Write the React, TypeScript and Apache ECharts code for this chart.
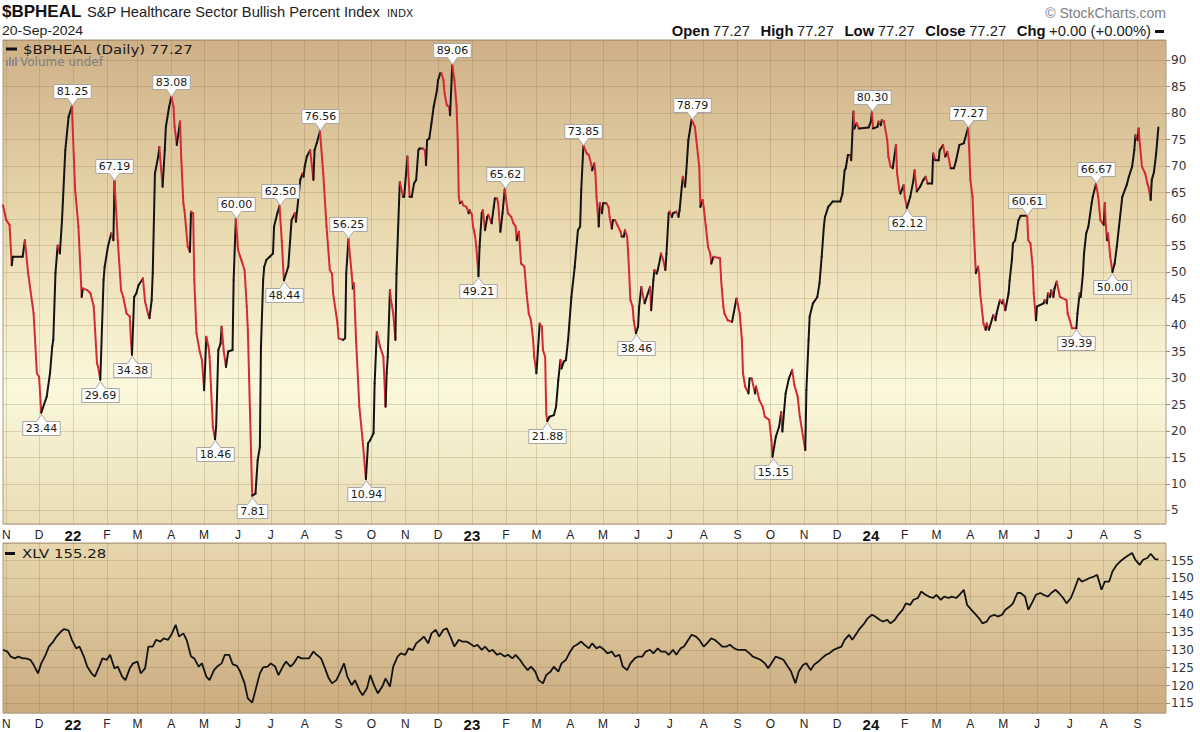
import React, { useEffect, useRef } from "react";
import * as echarts from "echarts";

// ---------------- data ----------------
const AXIS_START = "2021-10-29";
const AXIS_END = "2024-09-27";
const MONTH_LETTERS = ["J", "F", "M", "A", "M", "J", "J", "A", "S", "O", "N", "D"];

// $BPHEAL daily line, vertices
const bpiPoints: [string, number][] = [
  ["2021-10-29", 62.6], ["2021-11-01", 59.8], ["2021-11-04", 58.9], ["2021-11-06", 51.3], ["2021-11-07", 52.9],
  ["2021-11-16", 52.9], ["2021-11-18", 56.0], ["2021-11-21", 49.8], ["2021-11-26", 42.2], ["2021-11-29", 30.9],
  ["2021-12-01", 30.2], ["2021-12-03", 23.44], ["2021-12-08", 26.5], ["2021-12-11", 30.9], ["2021-12-13", 35.9],
  ["2021-12-14", 37.2], ["2021-12-16", 49.8], ["2021-12-18", 55.0], ["2021-12-20", 53.5], ["2021-12-22", 59.8],
  ["2021-12-25", 73.0], ["2021-12-28", 79.3], ["2021-12-31", 81.25], ["2022-01-03", 65.5], ["2022-01-06", 58.6],
  ["2022-01-09", 45.3], ["2022-01-10", 46.9], ["2022-01-14", 46.6], ["2022-01-17", 46.0], ["2022-01-20", 43.5],
  ["2022-01-23", 32.8], ["2022-01-24", 32.1], ["2022-01-26", 29.69], ["2022-01-29", 48.5], ["2022-01-30", 51.0],
  ["2022-02-02", 54.8], ["2022-02-05", 57.3], ["2022-02-07", 56.0], ["2022-02-08", 67.19], ["2022-02-11", 56.0],
  ["2022-02-14", 46.6], ["2022-02-16", 45.3], ["2022-02-19", 42.2], ["2022-02-22", 41.6], ["2022-02-23", 37.2],
  ["2022-02-24", 34.38], ["2022-02-26", 45.3], ["2022-02-28", 46.0], ["2022-03-02", 47.5], ["2022-03-06", 48.8],
  ["2022-03-08", 44.4], ["2022-03-11", 41.9], ["2022-03-12", 41.3], ["2022-03-14", 44.7], ["2022-03-15", 49.8],
  ["2022-03-17", 68.6], ["2022-03-20", 71.8], ["2022-03-21", 73.6], ["2022-03-24", 66.1], ["2022-03-26", 73.0],
  ["2022-03-27", 77.4], ["2022-03-30", 81.2], ["2022-04-01", 83.08], ["2022-04-03", 81.2], ["2022-04-04", 77.4],
  ["2022-04-06", 74.0], ["2022-04-09", 78.4], ["2022-04-10", 71.8], ["2022-04-12", 63.0], ["2022-04-13", 61.7],
  ["2022-04-16", 54.8], ["2022-04-18", 53.8], ["2022-04-19", 61.4], ["2022-04-21", 61.1], ["2022-04-22", 48.5],
  ["2022-04-24", 38.4], ["2022-04-27", 35.0], ["2022-04-29", 33.4], ["2022-05-01", 27.7], ["2022-05-03", 37.8],
  ["2022-05-05", 35.9], ["2022-05-06", 34.0], ["2022-05-09", 20.8], ["2022-05-11", 18.46], ["2022-05-12", 20.8],
  ["2022-05-14", 35.3], ["2022-05-16", 36.5], ["2022-05-17", 39.7], ["2022-05-19", 35.0], ["2022-05-21", 32.1],
  ["2022-05-23", 35.0], ["2022-05-27", 35.3], ["2022-05-28", 48.5], ["2022-05-30", 60.0], ["2022-06-01", 54.2],
  ["2022-06-04", 52.3], ["2022-06-07", 50.4], ["2022-06-09", 43.5], ["2022-06-10", 39.1], ["2022-06-12", 23.3],
  ["2022-06-14", 7.81], ["2022-06-17", 8.2], ["2022-06-19", 14.5], ["2022-06-21", 17.0], ["2022-06-22", 35.9],
  ["2022-06-24", 48.5], ["2022-06-25", 51.0], ["2022-06-27", 52.3], ["2022-06-30", 52.9], ["2022-07-03", 53.5],
  ["2022-07-04", 58.6], ["2022-07-07", 61.1], ["2022-07-09", 62.5], ["2022-07-11", 56.0], ["2022-07-13", 48.44],
  ["2022-07-17", 51.0], ["2022-07-20", 59.8], ["2022-07-23", 61.1], ["2022-07-24", 59.5], ["2022-07-28", 67.4],
  ["2022-07-30", 68.6], ["2022-07-31", 68.0], ["2022-08-01", 69.9], ["2022-08-03", 71.8], ["2022-08-06", 73.0],
  ["2022-08-07", 71.2], ["2022-08-09", 67.4], ["2022-08-10", 73.0], ["2022-08-12", 74.3], ["2022-08-15", 76.56],
  ["2022-08-18", 68.6], ["2022-08-21", 58.6], ["2022-08-24", 50.4], ["2022-08-26", 49.7], ["2022-08-27", 46.0],
  ["2022-08-31", 40.3], ["2022-09-01", 37.5], ["2022-09-05", 37.2], ["2022-09-07", 37.5], ["2022-09-08", 49.7],
  ["2022-09-10", 56.25], ["2022-09-13", 49.7], ["2022-09-14", 46.9], ["2022-09-15", 47.9], ["2022-09-17", 37.2],
  ["2022-09-20", 24.6], ["2022-09-23", 18.3], ["2022-09-26", 10.94], ["2022-09-28", 17.7], ["2022-09-30", 18.3],
  ["2022-10-03", 19.6], ["2022-10-04", 29.0], ["2022-10-06", 38.7], ["2022-10-09", 35.9], ["2022-10-12", 34.0],
  ["2022-10-14", 24.6], ["2022-10-15", 30.9], ["2022-10-16", 34.0], ["2022-10-18", 46.6], ["2022-10-19", 44.7],
  ["2022-10-21", 42.2], ["2022-10-23", 37.2], ["2022-10-24", 49.7], ["2022-10-27", 67.0], ["2022-10-28", 66.1],
  ["2022-10-30", 64.2], ["2022-10-31", 64.2], ["2022-11-03", 71.8], ["2022-11-05", 64.2], ["2022-11-07", 64.2],
  ["2022-11-09", 66.7], ["2022-11-11", 67.4], ["2022-11-13", 73.0], ["2022-11-14", 73.3], ["2022-11-17", 73.3],
  ["2022-11-19", 73.0], ["2022-11-20", 70.2], ["2022-11-21", 74.9], ["2022-11-23", 75.2], ["2022-11-25", 78.1],
  ["2022-11-27", 81.2], ["2022-11-30", 84.3], ["2022-12-01", 86.2], ["2022-12-03", 87.5], ["2022-12-04", 87.5],
  ["2022-12-06", 86.2], ["2022-12-07", 83.7], ["2022-12-09", 81.5], ["2022-12-11", 81.2], ["2022-12-12", 79.6],
  ["2022-12-14", 89.06], ["2022-12-16", 86.2], ["2022-12-18", 81.2], ["2022-12-19", 74.9], ["2022-12-20", 64.2],
  ["2022-12-21", 63.0], ["2022-12-23", 63.3], ["2022-12-24", 62.6], ["2022-12-27", 62.3], ["2022-12-29", 61.1],
  ["2022-12-30", 61.7], ["2023-01-01", 60.8], ["2023-01-02", 58.6], ["2023-01-04", 56.7], ["2023-01-05", 54.8],
  ["2023-01-07", 49.21], ["2023-01-08", 54.8], ["2023-01-10", 61.1], ["2023-01-11", 61.7], ["2023-01-13", 57.9],
  ["2023-01-15", 60.4], ["2023-01-16", 60.8], ["2023-01-19", 59.2], ["2023-01-21", 62.3], ["2023-01-22", 63.9],
  ["2023-01-24", 63.9], ["2023-01-25", 63.0], ["2023-01-27", 57.6], ["2023-01-29", 61.1], ["2023-01-31", 65.62],
  ["2023-02-03", 61.1], ["2023-02-06", 60.4], ["2023-02-08", 59.2], ["2023-02-10", 58.6], ["2023-02-11", 56.0],
  ["2023-02-13", 57.6], ["2023-02-15", 51.6], ["2023-02-18", 51.0], ["2023-02-20", 46.0], ["2023-02-22", 42.2],
  ["2023-02-24", 40.9], ["2023-02-26", 37.2], ["2023-02-27", 34.0], ["2023-03-01", 30.9], ["2023-03-04", 40.3],
  ["2023-03-06", 39.7], ["2023-03-07", 35.3], ["2023-03-09", 34.0], ["2023-03-10", 23.3], ["2023-03-11", 21.88],
  ["2023-03-13", 22.7], ["2023-03-17", 23.0], ["2023-03-19", 24.6], ["2023-03-21", 29.6], ["2023-03-23", 33.4],
  ["2023-03-24", 31.8], ["2023-03-26", 33.1], ["2023-03-28", 33.4], ["2023-03-30", 37.2], ["2023-04-02", 45.3],
  ["2023-04-05", 50.9], ["2023-04-08", 57.9], ["2023-04-10", 58.6], ["2023-04-11", 65.5], ["2023-04-13", 73.85],
  ["2023-04-16", 72.4], ["2023-04-18", 72.1], ["2023-04-20", 70.5], ["2023-04-21", 69.2], ["2023-04-23", 70.5],
  ["2023-04-24", 68.6], ["2023-04-25", 64.2], ["2023-04-27", 58.6], ["2023-04-28", 63.0], ["2023-04-30", 61.1],
  ["2023-05-01", 63.0], ["2023-05-04", 63.0], ["2023-05-06", 62.3], ["2023-05-07", 60.4], ["2023-05-09", 58.2],
  ["2023-05-10", 59.8], ["2023-05-12", 59.8], ["2023-05-14", 58.9], ["2023-05-17", 57.6], ["2023-05-18", 56.7],
  ["2023-05-20", 56.7], ["2023-05-21", 57.9], ["2023-05-23", 56.7], ["2023-05-24", 53.5], ["2023-05-26", 44.7],
  ["2023-05-28", 43.5], ["2023-05-29", 40.9], ["2023-05-31", 38.46], ["2023-06-02", 39.7], ["2023-06-03", 43.5],
  ["2023-06-05", 47.2], ["2023-06-06", 46.0], ["2023-06-08", 44.1], ["2023-06-11", 46.0], ["2023-06-13", 47.2],
  ["2023-06-14", 42.8], ["2023-06-16", 48.5], ["2023-06-17", 50.4], ["2023-06-19", 49.7], ["2023-06-20", 50.4],
  ["2023-06-22", 52.3], ["2023-06-23", 53.5], ["2023-06-25", 52.3], ["2023-06-27", 50.4], ["2023-06-28", 53.5],
  ["2023-06-30", 61.1], ["2023-07-01", 61.4], ["2023-07-03", 60.4], ["2023-07-04", 61.1], ["2023-07-07", 61.4],
  ["2023-07-09", 60.4], ["2023-07-10", 61.7], ["2023-07-12", 66.1], ["2023-07-13", 68.0], ["2023-07-15", 66.1],
  ["2023-07-16", 68.6], ["2023-07-18", 74.9], ["2023-07-21", 78.79], ["2023-07-24", 77.4], ["2023-07-25", 75.5],
  ["2023-07-28", 69.9], ["2023-07-29", 62.3], ["2023-07-31", 63.6], ["2023-08-01", 62.3], ["2023-08-03", 58.6],
  ["2023-08-05", 54.8], ["2023-08-07", 53.5], ["2023-08-08", 51.6], ["2023-08-10", 52.9], ["2023-08-16", 52.6],
  ["2023-08-17", 48.5], ["2023-08-19", 43.5], ["2023-08-20", 42.2], ["2023-08-23", 40.9], ["2023-08-27", 40.6],
  ["2023-08-31", 45.0], ["2023-09-01", 44.1], ["2023-09-03", 42.2], ["2023-09-05", 37.2], ["2023-09-06", 30.9],
  ["2023-09-08", 28.4], ["2023-09-11", 27.1], ["2023-09-12", 29.9], ["2023-09-14", 29.9], ["2023-09-17", 27.1],
  ["2023-09-18", 28.4], ["2023-09-21", 25.8], ["2023-09-24", 24.6], ["2023-09-26", 22.7], ["2023-09-30", 22.1],
  ["2023-10-02", 18.3], ["2023-10-03", 15.15], ["2023-10-06", 18.9], ["2023-10-09", 20.8], ["2023-10-11", 23.6],
  ["2023-10-12", 19.9], ["2023-10-15", 27.1], ["2023-10-18", 29.9], ["2023-10-21", 31.5], ["2023-10-23", 28.7],
  ["2023-10-26", 26.5], ["2023-10-28", 22.7], ["2023-10-31", 18.9], ["2023-11-02", 16.4], ["2023-11-03", 27.7],
  ["2023-11-05", 37.2], ["2023-11-06", 41.6], ["2023-11-09", 44.1], ["2023-11-13", 45.3], ["2023-11-15", 47.9],
  ["2023-11-17", 52.9], ["2023-11-19", 58.6], ["2023-11-20", 60.4], ["2023-11-23", 62.3], ["2023-11-27", 63.3],
  ["2023-12-04", 63.3], ["2023-12-06", 64.8], ["2023-12-08", 69.2], ["2023-12-09", 69.6], ["2023-12-11", 72.1],
  ["2023-12-13", 72.1], ["2023-12-14", 71.1], ["2023-12-16", 80.3], ["2023-12-17", 77.1], ["2023-12-19", 78.1],
  ["2023-12-21", 77.1], ["2023-12-30", 77.3], ["2024-01-01", 78.4], ["2024-01-02", 80.3], ["2024-01-03", 77.1],
  ["2024-01-07", 77.4], ["2024-01-08", 78.4], ["2024-01-10", 77.7], ["2024-01-11", 78.7], ["2024-01-13", 78.4],
  ["2024-01-16", 74.9], ["2024-01-17", 71.8], ["2024-01-19", 69.9], ["2024-01-21", 69.6], ["2024-01-24", 74.0],
  ["2024-01-25", 68.6], ["2024-01-27", 65.5], ["2024-01-28", 64.8], ["2024-01-31", 66.4], ["2024-02-01", 64.2],
  ["2024-02-03", 62.12], ["2024-02-06", 64.2], ["2024-02-09", 67.4], ["2024-02-10", 69.2], ["2024-02-12", 65.2],
  ["2024-02-15", 66.1], ["2024-02-18", 67.4], ["2024-02-20", 68.0], ["2024-02-22", 66.7], ["2024-02-26", 66.7],
  ["2024-02-27", 72.4], ["2024-02-29", 71.1], ["2024-03-03", 71.1], ["2024-03-04", 73.0], ["2024-03-07", 74.0],
  ["2024-03-09", 71.8], ["2024-03-11", 72.7], ["2024-03-14", 69.6], ["2024-03-17", 69.6], ["2024-03-19", 71.1],
  ["2024-03-22", 74.0], ["2024-03-26", 74.3], ["2024-03-30", 77.27], ["2024-03-31", 73.0], ["2024-04-01", 67.4],
  ["2024-04-03", 64.2], ["2024-04-04", 58.6], ["2024-04-06", 49.8], ["2024-04-08", 51.0], ["2024-04-09", 49.8],
  ["2024-04-10", 46.0], ["2024-04-13", 40.3], ["2024-04-15", 39.1], ["2024-04-16", 40.3], ["2024-04-18", 39.1],
  ["2024-04-22", 41.9], ["2024-04-24", 40.9], ["2024-04-25", 42.2], ["2024-04-28", 44.7], ["2024-04-30", 44.1],
  ["2024-05-01", 44.7], ["2024-05-03", 42.8], ["2024-05-06", 46.0], ["2024-05-07", 48.5], ["2024-05-09", 52.3],
  ["2024-05-10", 55.4], ["2024-05-12", 56.0], ["2024-05-15", 59.8], ["2024-05-17", 60.61], ["2024-05-23", 60.61],
  ["2024-05-24", 56.0], ["2024-05-26", 55.4], ["2024-05-28", 51.0], ["2024-05-29", 46.0], ["2024-05-31", 40.9],
  ["2024-06-01", 43.5], ["2024-06-07", 44.1], ["2024-06-08", 44.7], ["2024-06-10", 44.1], ["2024-06-11", 46.0],
  ["2024-06-13", 45.3], ["2024-06-14", 46.6], ["2024-06-16", 45.3], ["2024-06-17", 46.9], ["2024-06-19", 48.2],
  ["2024-06-22", 45.3], ["2024-06-28", 44.7], ["2024-06-29", 42.2], ["2024-07-01", 40.9], ["2024-07-03", 39.4],
  ["2024-07-07", 39.39], ["2024-07-08", 42.2], ["2024-07-10", 46.0], ["2024-07-11", 45.3], ["2024-07-13", 49.7],
  ["2024-07-14", 53.5], ["2024-07-16", 57.3], ["2024-07-18", 58.6], ["2024-07-21", 63.0], ["2024-07-22", 64.2],
  ["2024-07-25", 66.67], ["2024-07-27", 64.2], ["2024-07-29", 59.8], ["2024-08-01", 58.9], ["2024-08-02", 63.0],
  ["2024-08-03", 58.6], ["2024-08-04", 56.0], ["2024-08-05", 57.3], ["2024-08-07", 52.9], ["2024-08-09", 50.0],
  ["2024-08-11", 51.6], ["2024-08-13", 54.8], ["2024-08-15", 58.6], ["2024-08-18", 64.2], ["2024-08-22", 66.4],
  ["2024-08-24", 68.0], ["2024-08-27", 69.9], ["2024-08-29", 73.0], ["2024-08-30", 75.8], ["2024-09-01", 74.9],
  ["2024-09-02", 77.1], ["2024-09-03", 74.3], ["2024-09-05", 69.9], ["2024-09-08", 68.6], ["2024-09-10", 66.7],
  ["2024-09-11", 66.1], ["2024-09-13", 63.6], ["2024-09-14", 67.4], ["2024-09-16", 68.9], ["2024-09-18", 72.4],
  ["2024-09-20", 77.27],
];

// labelled swing highs (label above) and lows (label below)
const peakMarks: [string, number][] = [
  ["2021-12-31", 81.25], ["2022-02-08", 67.19], ["2022-04-01", 83.08], ["2022-05-30", 60.0], ["2022-07-09", 62.5],
  ["2022-08-15", 76.56], ["2022-09-10", 56.25], ["2022-12-14", 89.06], ["2023-01-31", 65.62], ["2023-04-13", 73.85],
  ["2023-07-21", 78.79], ["2024-01-02", 80.3], ["2024-03-30", 77.27], ["2024-05-23", 60.61], ["2024-07-25", 66.67],
];
const troughMarks: [string, number][] = [
  ["2021-12-03", 23.44], ["2022-01-26", 29.69], ["2022-02-24", 34.38], ["2022-05-11", 18.46], ["2022-06-14", 7.81],
  ["2022-07-13", 48.44], ["2022-09-26", 10.94], ["2023-01-07", 49.21], ["2023-03-11", 21.88], ["2023-05-31", 38.46],
  ["2023-10-03", 15.15], ["2024-02-03", 62.12], ["2024-07-07", 39.39], ["2024-08-09", 50.0],
];

// XLV closes, sampled twice a week (Fri / Tue) from 2021-10-29 to 2024-09-20
const xlvStart = "2021-10-29";
const xlvCloses: number[] = [
  130.0, 129.5, 128.1, 127.6, 128.1, 127.6, 127.6, 127.2, 125.8, 123.4,
  126.2, 128.6, 130.9, 132.3, 133.7, 135.1, 135.8, 135.4, 132.8, 130.4,
  130.9, 128.1, 125.3, 123.4, 122.5, 125.3, 127.6, 127.2, 128.6, 124.8,
  125.3, 122.5, 121.5, 124.8, 126.2, 126.7, 123.4, 124.8, 130.9, 130.9,
  132.8, 132.3, 133.2, 132.8, 134.2, 137.0, 133.7, 134.6, 132.8, 128.1,
  127.6, 125.3, 126.2, 122.5, 121.5, 124.3, 125.3, 126.2, 128.6, 128.6,
  126.0, 125.5, 123.9, 120.6, 116.4, 115.2, 118.7, 123.4, 125.1, 125.3,
  126.2, 125.3, 122.9, 125.3, 126.7, 125.3, 126.2, 128.1, 127.6, 127.6,
  127.6, 129.5, 128.6, 127.6, 125.3, 122.0, 120.6, 121.5, 123.4, 126.2,
  122.5, 120.1, 121.5, 118.7, 117.3, 119.2, 122.9, 119.7, 117.8, 119.7,
  122.0, 119.7, 125.3, 128.1, 129.0, 128.6, 130.4, 129.9, 131.8, 132.8,
  133.7, 131.8, 134.6, 135.6, 133.7, 135.6, 136.0, 133.2, 130.9, 132.8,
  132.3, 132.3, 131.8, 130.9, 131.4, 130.0, 130.9, 129.5, 130.0, 128.6,
  129.0, 128.1, 128.6, 127.6, 128.6, 127.2, 125.8, 124.3, 125.3, 123.9,
  121.5, 120.6, 122.9, 123.9, 125.3, 123.9, 126.2, 127.2, 129.0, 130.9,
  131.4, 132.3, 131.4, 130.4, 131.8, 130.4, 130.9, 130.0, 129.0, 129.5,
  128.1, 128.6, 125.3, 124.3, 126.2, 127.6, 128.1, 128.1, 129.5, 130.0,
  129.0, 130.4, 129.5, 129.5, 128.6, 130.0, 128.6, 130.4, 130.9, 132.8,
  134.2, 133.7, 132.8, 130.9, 131.8, 133.2, 132.8, 131.8, 130.9, 130.9,
  131.4, 130.4, 130.0, 130.0, 130.0, 129.0, 128.1, 127.6, 127.2, 126.2,
  124.8, 126.7, 128.1, 127.6, 127.2, 125.3, 123.9, 120.6, 123.9, 125.8,
  126.2, 124.3, 125.8, 126.7, 127.6, 128.6, 129.0, 130.0, 130.4, 130.9,
  132.8, 134.2, 132.8, 134.6, 136.0, 137.4, 138.8, 139.8, 139.3, 138.4,
  137.9, 138.4, 137.4, 138.4, 139.8, 141.2, 143.0, 142.6, 144.0, 144.5,
  146.3, 145.4, 144.9, 144.5, 145.4, 144.0, 144.9, 144.5, 144.9, 144.5,
  145.4, 146.8, 142.6, 141.2, 140.2, 138.8, 137.4, 137.9, 139.3, 139.8,
  139.3, 139.8, 141.2, 142.1, 143.0, 145.9, 145.9, 144.9, 141.2, 143.5,
  145.4, 145.9, 145.4, 144.9, 145.9, 146.8, 145.9, 144.5, 143.0, 144.5,
  146.8, 150.1, 149.1, 149.6, 150.1, 150.5, 151.0, 146.8, 149.1, 149.1,
  151.9, 153.8, 154.7, 155.7, 156.3, 157.1, 155.2, 153.8, 155.2, 155.7,
  156.9, 155.4, 155.28,
];

// ---------------- helpers ----------------
const DAY = 86400000;
const toUTC = (s: string) => {
  const [y, m, d] = s.split("-").map(Number);
  return Date.UTC(y, m - 1, d);
};
const T0 = toUTC(AXIS_START);
const dayIndex = (s: string) => Math.round((toUTC(s) - T0) / DAY);
const dayCats: string[] = [];
for (let t = T0; t <= toUTC(AXIS_END); t += DAY) dayCats.push(new Date(t).toISOString().slice(0, 10));
const isMonthStart = (_i: number, v: string) => String(v).slice(8) === "01";
const monthFormatter = (v: string) => {
  const m = Number(String(v).slice(5, 7));
  if (m === 1) return "{y|" + String(v).slice(2, 4) + "}";
  return "{m|" + MONTH_LETTERS[m - 1] + "}";
};

const RED = "#d42a33";
const BLACK = "#141414";
const GRID_LINE = "rgba(120,90,50,0.2)";
const BORDER = "#ad9a80";
const SANS = "'DejaVu Sans', Verdana, sans-serif";
const ARIAL = "'Liberation Sans', Arial, sans-serif";

export default function App() {
  const ref = useRef<HTMLDivElement>(null);
  useEffect(() => {
    if (!ref.current) return;
    const chart = echarts.init(ref.current, undefined, { renderer: "svg" });

    const segData = bpiPoints.slice(1).map((p, i) => [dayIndex(bpiPoints[i][0]), bpiPoints[i][1], dayIndex(p[0]), p[1]]);
    const annData = [
      ...peakMarks.map(([d, v]) => [dayIndex(d), v, 1]),
      ...troughMarks.map(([d, v]) => [dayIndex(d), v, -1]),
    ];
    const xlvBase = dayIndex(xlvStart);
    const xlvData = xlvCloses.map((v, i) => [xlvBase + Math.floor(i / 2) * 7 + (i % 2 ? 4 : 0), v]);

    const xAxisCommon = (gridIndex: number) => ({
      type: "category",
      gridIndex,
      data: dayCats,
      boundaryGap: false,
      axisLine: { show: false },
      axisTick: { show: false },
      axisLabel: {
        interval: isMonthStart,
        formatter: monthFormatter,
        margin: 4,
        rich: {
          m: { fontFamily: ARIAL, fontSize: 12, color: "#222", lineHeight: 14 },
          y: { fontFamily: ARIAL, fontSize: 15, fontWeight: "bold", color: "#111", lineHeight: 14 },
        },
      },
      splitLine: { show: true, interval: isMonthStart, lineStyle: { color: GRID_LINE, width: 1 } },
    });

    const yAxisCommon = (gridIndex: number, min: number, max: number, splitNumber: number) => ({
      type: "value",
      gridIndex,
      position: "right",
      min,
      max,
      splitNumber,
      axisLine: { show: false },
      axisTick: { show: true, length: 4, lineStyle: { color: "#9c8c78" } },
      axisLabel: { showMinLabel: false, showMaxLabel: false, margin: 5, fontFamily: SANS, fontSize: 12, color: "#333" },
      splitLine: { show: true, lineStyle: { color: GRID_LINE, width: 1 } },
    });

    const option: any = {
      animation: false,
      grid: [
        {
          left: 3, top: 40, width: 1163, height: 484, show: true, containLabel: false, outerBoundsMode: "none",
          borderColor: BORDER, borderWidth: 1,
          backgroundColor: new echarts.graphic.LinearGradient(0, 0, 0, 1, [
            { offset: 0, color: "#cfb087" },
            { offset: 0.35, color: "#e7d6aa" },
            { offset: 0.72, color: "#fbf8dc" },
            { offset: 1, color: "#e9ddb5" },
          ]),
        },
        {
          left: 3, top: 543, width: 1163, height: 170, show: true, containLabel: false, outerBoundsMode: "none",
          borderColor: BORDER, borderWidth: 1,
          backgroundColor: new echarts.graphic.LinearGradient(0, 0, 0, 1, [
            { offset: 0, color: "#e7d7ac" },
            { offset: 1, color: "#cbab80" },
          ]),
        },
      ],
      xAxis: [xAxisCommon(0), xAxisCommon(1)],
      yAxis: [yAxisCommon(0, 2.45, 93.8, 18), yAxisCommon(1, 112.3, 159.9, 9)],
      series: [
        {
          type: "custom",
          name: "$BPHEAL",
          xAxisIndex: 0,
          yAxisIndex: 0,
          data: segData,
          encode: { x: [0, 2], y: [1, 3] },
          z: 3,
          silent: true,
          renderItem: (_params: any, api: any) => {
            const a = api.coord([api.value(0), api.value(1)]);
            const b = api.coord([api.value(2), api.value(3)]);
            const down = api.value(3) < api.value(1);
            return {
              type: "line",
              shape: { x1: a[0], y1: a[1], x2: b[0], y2: b[1] },
              style: { stroke: down ? RED : BLACK, lineWidth: 2, lineCap: "round" },
            };
          },
        },
        {
          type: "custom",
          name: "marks",
          xAxisIndex: 0,
          yAxisIndex: 0,
          data: annData,
          encode: { x: 0, y: 1 },
          z: 5,
          silent: true,
          renderItem: (_params: any, api: any) => {
            const p = api.coord([api.value(0), api.value(1)]);
            const dir = api.value(2);
            const text = Number(api.value(1)).toFixed(2);
            const w = text.length * 6.9 + 3;
            const x = Math.round(p[0]) + 0.5;
            const y = Math.round(p[1]) + 0.5;
            const s = dir > 0 ? -1 : 1;
            const tip = y + s * 1;
            const base = y + s * 8;
            const far = y + s * 22;
            return {
              type: "group",
              children: [
                {
                  type: "polygon",
                  shape: {
                    points: [
                      [x, tip], [x + 5, base], [x + w / 2, base], [x + w / 2, far],
                      [x - w / 2, far], [x - w / 2, base], [x - 5, base],
                    ],
                  },
                  style: { fill: "#fdfdfb", stroke: "#a7a7a7", lineWidth: 1 },
                },
                {
                  type: "text",
                  x: x,
                  y: y + s * 15,
                  style: {
                    text, fill: "#1a1a1a", fontSize: 11, fontFamily: SANS,
                    align: "center", verticalAlign: "middle",
                  },
                },
              ],
            };
          },
        },
        {
          type: "line",
          name: "XLV",
          xAxisIndex: 1,
          yAxisIndex: 1,
          data: xlvData,
          showSymbol: false,
          symbol: "none",
          silent: true,
          lineStyle: { color: BLACK, width: 1.8 },
          z: 3,
        },
      ],
      graphic: [
        { type: "text", x: 2, y: 11, style: { text: "$BPHEAL", fontFamily: ARIAL, fontWeight: "bold", fontSize: 17, fill: "#111", verticalAlign: "middle" } },
        { type: "text", x: 87, y: 12, scaleX: 1.05, style: { text: "S&P Healthcare Sector Bullish Percent Index", fontFamily: ARIAL, fontSize: 14, fill: "#222", verticalAlign: "middle" } },
        { type: "text", x: 387, y: 13, style: { text: "INDX", fontFamily: SANS, fontSize: 10.5, fill: "#222", verticalAlign: "middle" } },
        { type: "text", x: 2, y: 31, scaleX: 1.08, style: { text: "20-Sep-2024", fontFamily: ARIAL, fontSize: 13, fill: "#222", verticalAlign: "middle" } },
        { type: "text", x: 1166, y: 13, style: { text: "\u00A9 StockCharts.com", fontFamily: ARIAL, fontSize: 14, fill: "#808080", align: "right", verticalAlign: "middle" } },
        {
          type: "text", x: 1151, y: 31, scaleX: 1.057,
          style: {
            text: "{b|Open} {r|77.27}   {b|High} {r|77.27}   {b|Low} {r|77.27}   {b|Close} {r|77.27}   {b|Chg} {r|+0.00 (+0.00%)}",
            align: "right", verticalAlign: "middle",
            rich: {
              b: { fontFamily: ARIAL, fontWeight: "bold", fontSize: 14, fill: "#111" },
              r: { fontFamily: ARIAL, fontSize: 14, fill: "#222" },
            },
          },
        },
        { type: "rect", shape: { x: 1155, y: 30, width: 9, height: 3 }, style: { fill: "#111" } },
        // top legend
        { type: "rect", shape: { x: 6, y: 47.5, width: 11, height: 3 }, style: { fill: "#111" }, z: 10 },
        { type: "text", x: 23, y: 49, scaleX: 1.15, style: { text: "$BPHEAL (Daily) 77.27", fontFamily: SANS, fontSize: 13, fill: "#1a1a1a", verticalAlign: "middle" }, z: 10 },
        { type: "rect", shape: { x: 6, y: 60, width: 2, height: 6 }, style: { fill: "#8c8c8c" }, z: 10 },
        { type: "rect", shape: { x: 9, y: 57, width: 2, height: 9 }, style: { fill: "#8c8c8c" }, z: 10 },
        { type: "rect", shape: { x: 12, y: 59, width: 2, height: 7 }, style: { fill: "#8c8c8c" }, z: 10 },
        { type: "rect", shape: { x: 15, y: 57, width: 2, height: 9 }, style: { fill: "#8c8c8c" }, z: 10 },
        { type: "text", x: 20, y: 62, style: { text: "Volume undef", fontFamily: SANS, fontSize: 12, fill: "#7f7f7f", verticalAlign: "middle" }, z: 10 },
        // bottom legend
        { type: "rect", shape: { x: 5, y: 552, width: 10, height: 3 }, style: { fill: "#111" }, z: 10 },
        { type: "text", x: 22, y: 553, scaleX: 1.15, style: { text: "XLV 155.28", fontFamily: SANS, fontSize: 13, fill: "#1a1a1a", verticalAlign: "middle" }, z: 10 },
      ],
    };

    chart.setOption(option);
    return () => chart.dispose();
  }, []);

  return (
    <div
      ref={ref}
      style={{ position: "absolute", left: 0, top: 0, width: 1200, height: 732, background: "#ffffff" }}
    />
  );
}
